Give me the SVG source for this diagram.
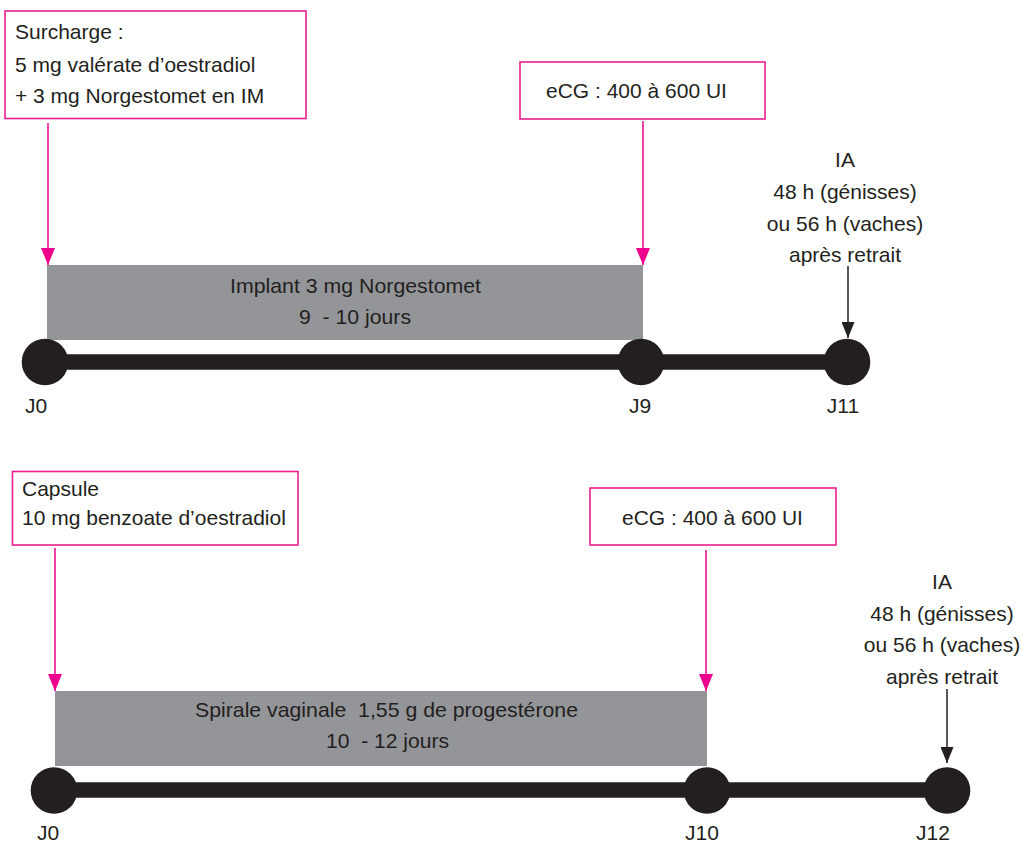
<svg xmlns="http://www.w3.org/2000/svg" width="1021" height="846" viewBox="0 0 1021 846">
<defs>
<style>
text{font-family:"Liberation Sans",Arial,sans-serif;font-size:21px;fill:#231f20;white-space:pre}
.c{text-anchor:middle}
.box{fill:#fff;stroke:#ec1f8e;stroke-width:1.6}
.bar{fill:#939598}
.tl{stroke:#231f20;stroke-width:15.5;fill:none}
.dot{fill:#231f20}
.pk{stroke:#ec008c;stroke-width:1.5;fill:none}
.bk{stroke:#231f20;stroke-width:1.5;fill:none}
</style>
<marker id="ap" markerUnits="userSpaceOnUse" viewBox="0 0 17 14" refX="17" refY="7" markerWidth="17" markerHeight="14" orient="auto"><path d="M0,0L17,7L0,14z" fill="#ec008c"/></marker>
<marker id="ab" markerUnits="userSpaceOnUse" viewBox="0 0 16 13" refX="16" refY="6.5" markerWidth="16" markerHeight="13" orient="auto"><path d="M0,0L16,6.5L0,13z" fill="#231f20"/></marker>
</defs>

<!-- Top protocol -->
<g id="surcharge">
<rect class="box" x="5" y="11" width="301" height="107.5"/>
<text x="15" y="39">Surcharge :</text>
<text x="15" y="72">5 mg valérate d’oestradiol</text>
<text x="15" y="103">+ 3 mg Norgestomet en IM</text>
</g>
<g id="ecg1">
<rect class="box" x="520" y="62" width="245" height="57"/>
<text x="546" y="98">eCG : 400 à 600 UI</text>
</g>
<g id="implant">
<rect class="bar" x="47" y="265" width="596" height="75"/>
<text class="c" x="355.5" y="293" textLength="251" lengthAdjust="spacingAndGlyphs">Implant 3 mg Norgestomet</text>
<text class="c" x="355" y="324" textLength="112" lengthAdjust="spacingAndGlyphs">9  - 10 jours</text>
</g>
<g id="ia1">
<text class="c" x="845" y="167">IA</text>
<text class="c" x="845" y="199">48 h (génisses)</text>
<text class="c" x="845" y="231">ou 56 h (vaches)</text>
<text class="c" x="845" y="262">après retrait</text>
</g>
<g id="timeline1">
<line class="tl" x1="45" y1="362" x2="847" y2="362"/>
<circle class="dot" cx="45" cy="362" r="23.3"/>
<circle class="dot" cx="641" cy="362" r="23.3"/>
<circle class="dot" cx="847" cy="362" r="23.3"/>
<text class="c" x="36" y="413">J0</text>
<text class="c" x="640" y="413">J9</text>
<text class="c" x="843" y="413">J11</text>
</g>

<!-- Bottom protocol -->
<g id="capsule">
<rect class="box" x="12.5" y="471.5" width="285.5" height="73.5"/>
<text x="22" y="496">Capsule</text>
<text x="22" y="525">10 mg benzoate d’oestradiol</text>
</g>
<g id="ecg2">
<rect class="box" x="590" y="488" width="246" height="57"/>
<text x="622" y="525">eCG : 400 à 600 UI</text>
</g>
<g id="spirale">
<rect class="bar" x="55" y="691" width="652" height="75"/>
<text class="c" x="386.5" y="717" textLength="383" lengthAdjust="spacingAndGlyphs">Spirale vaginale  1,55 g de progestérone</text>
<text class="c" x="387.5" y="748" textLength="123" lengthAdjust="spacingAndGlyphs">10  - 12 jours</text>
</g>
<g id="ia2">
<text class="c" x="942" y="589">IA</text>
<text class="c" x="942" y="621">48 h (génisses)</text>
<text class="c" x="942" y="652">ou 56 h (vaches)</text>
<text class="c" x="942" y="684">après retrait</text>
</g>
<g id="timeline2">
<line class="tl" x1="54" y1="790" x2="947" y2="790"/>
<circle class="dot" cx="54" cy="790.5" r="23.3"/>
<circle class="dot" cx="707" cy="790.5" r="23.3"/>
<circle class="dot" cx="947" cy="790.5" r="23.3"/>
<text class="c" x="48" y="840">J0</text>
<text class="c" x="702" y="840">J10</text>
<text class="c" x="933" y="840">J12</text>
</g>

<g id="connectors">
<line class="pk" x1="48" y1="123" x2="48" y2="265" marker-end="url(#ap)"/>
<line class="pk" x1="643" y1="121" x2="643" y2="265" marker-end="url(#ap)"/>
<line class="bk" x1="848" y1="266" x2="848" y2="338" marker-end="url(#ab)"/>
<line class="pk" x1="55" y1="548" x2="55" y2="691" marker-end="url(#ap)"/>
<line class="pk" x1="706" y1="550" x2="706" y2="691" marker-end="url(#ap)"/>
<line class="bk" x1="947" y1="689" x2="947" y2="763" marker-end="url(#ab)"/>
</g>
</svg>
